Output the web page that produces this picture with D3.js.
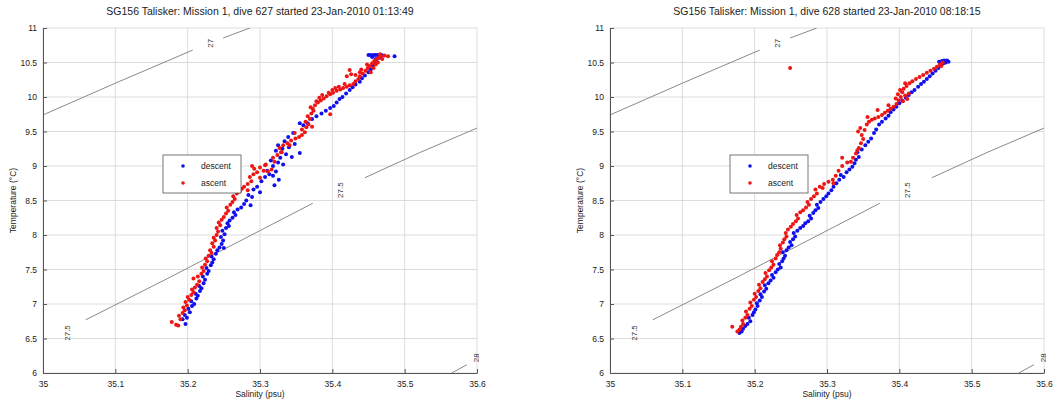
<!DOCTYPE html>
<html><head><meta charset="utf-8">
<script src="https://cdn.jsdelivr.net/npm/d3@7"></script>
<style>
body{margin:0;background:#fff;}
svg{display:block;font-family:"Liberation Sans",Arial,sans-serif;}
</style></head>
<body><svg id="chart" width="1059" height="405"></svg>
<script>
const titles = ["SG156 Talisker: Mission 1, dive 627 started 23-Jan-2010 01:13:49",
                "SG156 Talisker: Mission 1, dive 628 started 23-Jan-2010 08:18:15"];
const xTicks = [35,35.1,35.2,35.3,35.4,35.5,35.6];
const yTicks = [6,6.5,7,7.5,8,8.5,9,9.5,10,10.5,11];
const xLabel = "Salinity (psu)";
const yLabel = "Temperature (\u00B0C)";
const seriesNames = ["descent","ascent"];

// isopycnal contours [S,T] and labels
const contour27 = [[[35.0,9.74],[35.1,10.20],[35.207,10.68]],[[35.249,10.855],[35.286,11.0]]];
const contour275 = [[[35.059,6.77],[35.176,7.39],[35.314,8.14],[35.373,8.46]],[[35.445,8.83],[35.52,9.19],[35.6,9.55]]];
const contour28 = [[[35.565,6.0],[35.586,6.12]]];
const contourLabels = [["27",35.231,10.78],["27.5",35.41,8.65],["27.5",35.033,6.58],["28",35.598,6.22]];

const descent627 = [[35.197,6.71],[35.193,6.78],[35.199,6.80],[35.196,6.84],[35.203,6.88],[35.201,6.93],[35.206,6.97],[35.209,7.00],[35.205,7.04],[35.212,7.08],[35.214,7.12],[35.211,7.15],[35.217,7.19],[35.219,7.23],[35.216,7.26],[35.222,7.30],[35.224,7.35],[35.221,7.40],[35.227,7.44],[35.229,7.48],[35.226,7.52],[35.232,7.56],[35.234,7.60],[35.236,7.65],[35.233,7.69],[35.239,7.73],[35.241,7.78],[35.244,7.82],[35.250,7.81],[35.247,7.87],[35.249,7.92],[35.246,7.97],[35.251,8.01],[35.248,8.06],[35.253,8.10],[35.257,8.13],[35.255,8.17],[35.258,8.21],[35.262,8.25],[35.266,8.29],[35.264,8.33],[35.269,8.37],[35.274,8.40],[35.278,8.45],[35.287,8.43],[35.281,8.50],[35.289,8.55],[35.284,8.58],[35.300,8.62],[35.291,8.66],[35.296,8.70],[35.320,8.72],[35.302,8.78],[35.326,8.80],[35.307,8.84],[35.313,8.88],[35.318,8.86],[35.310,8.93],[35.322,8.92],[35.318,9.00],[35.325,9.05],[35.332,9.02],[35.315,9.08],[35.328,9.12],[35.344,9.13],[35.336,9.17],[35.355,9.19],[35.322,9.22],[35.331,9.25],[35.340,9.27],[35.325,9.30],[35.348,9.32],[35.334,9.36],[35.339,9.42],[35.346,9.48],[35.355,9.62],[35.360,9.59],[35.366,9.62],[35.372,9.68],[35.378,9.72],[35.385,9.76],[35.391,9.80],[35.397,9.84],[35.402,9.87],[35.406,9.92],[35.410,9.97],[35.414,10.00],[35.419,10.05],[35.424,10.10],[35.428,10.14],[35.432,10.18],[35.438,10.22],[35.441,10.27],[35.445,10.31],[35.450,10.36],[35.453,10.40],[35.456,10.45],[35.459,10.49],[35.461,10.54],[35.455,10.58],[35.450,10.61],[35.453,10.61],[35.457,10.61],[35.460,10.61],[35.463,10.61],[35.466,10.60],[35.468,10.61],[35.465,10.57],[35.460,10.55],[35.486,10.59]];

const ascent627 = [[35.178,6.74],[35.184,6.70],[35.187,6.69],[35.190,6.78],[35.188,6.83],[35.193,6.87],[35.196,6.91],[35.194,6.95],[35.199,6.98],[35.197,7.03],[35.202,7.06],[35.200,7.10],[35.205,7.13],[35.208,7.17],[35.206,7.21],[35.210,7.24],[35.213,7.28],[35.208,7.37],[35.216,7.33],[35.214,7.40],[35.219,7.44],[35.222,7.48],[35.220,7.53],[35.224,7.57],[35.227,7.62],[35.225,7.66],[35.229,7.70],[35.233,7.74],[35.231,7.78],[35.236,7.83],[35.234,7.88],[35.238,7.92],[35.236,7.96],[35.240,8.00],[35.242,8.05],[35.240,8.10],[35.245,8.14],[35.243,8.18],[35.247,8.22],[35.250,8.26],[35.253,8.31],[35.256,8.35],[35.254,8.40],[35.259,8.44],[35.262,8.48],[35.265,8.52],[35.263,8.56],[35.268,8.60],[35.283,8.65],[35.272,8.63],[35.275,8.67],[35.278,8.70],[35.283,8.74],[35.300,8.83],[35.288,8.78],[35.286,8.84],[35.291,8.88],[35.296,8.91],[35.292,8.96],[35.289,9.00],[35.300,8.98],[35.307,9.01],[35.305,8.93],[35.311,8.92],[35.316,8.95],[35.308,9.02],[35.320,9.06],[35.318,9.12],[35.324,9.16],[35.330,9.20],[35.329,9.20],[35.327,9.26],[35.341,9.30],[35.332,9.30],[35.338,9.33],[35.343,9.37],[35.349,9.40],[35.348,9.48],[35.354,9.42],[35.358,9.45],[35.362,9.49],[35.358,9.53],[35.372,9.57],[35.364,9.56],[35.367,9.60],[35.363,9.64],[35.369,9.68],[35.366,9.72],[35.371,9.76],[35.397,9.75],[35.374,9.80],[35.370,9.85],[35.376,9.88],[35.373,9.83],[35.378,9.94],[35.380,9.92],[35.384,9.95],[35.382,9.99],[35.388,9.98],[35.386,10.03],[35.392,10.01],[35.395,10.06],[35.397,10.04],[35.401,10.06],[35.400,10.10],[35.406,10.09],[35.404,10.13],[35.411,10.11],[35.409,10.15],[35.415,10.13],[35.420,10.15],[35.417,10.19],[35.424,10.17],[35.429,10.19],[35.432,10.23],[35.436,10.26],[35.420,10.30],[35.426,10.33],[35.432,10.32],[35.438,10.30],[35.424,10.39],[35.438,10.36],[35.442,10.34],[35.446,10.38],[35.449,10.42],[35.452,10.45],[35.455,10.49],[35.458,10.52],[35.461,10.55],[35.464,10.57],[35.467,10.59],[35.472,10.60],[35.477,10.59],[35.466,10.62],[35.460,10.47],[35.448,10.47],[35.440,10.40],[35.453,10.36],[35.457,10.42],[35.463,10.50],[35.469,10.55]];

const descent628 = [[35.179,6.58],[35.182,6.60],[35.184,6.64],[35.187,6.68],[35.190,6.71],[35.194,6.75],[35.192,6.80],[35.197,6.84],[35.199,6.88],[35.201,6.92],[35.204,6.97],[35.203,7.01],[35.207,7.05],[35.210,7.10],[35.208,7.14],[35.213,7.18],[35.216,7.22],[35.214,7.27],[35.219,7.30],[35.222,7.34],[35.226,7.38],[35.224,7.42],[35.229,7.46],[35.232,7.50],[35.236,7.53],[35.234,7.58],[35.238,7.62],[35.240,7.66],[35.242,7.70],[35.239,7.75],[35.244,7.78],[35.247,7.82],[35.251,7.85],[35.249,7.90],[35.253,7.94],[35.256,7.98],[35.254,8.03],[35.259,8.06],[35.263,8.10],[35.267,8.13],[35.270,8.17],[35.274,8.20],[35.278,8.24],[35.276,8.28],[35.281,8.32],[35.284,8.36],[35.288,8.39],[35.286,8.44],[35.291,8.48],[35.295,8.52],[35.299,8.56],[35.302,8.60],[35.306,8.65],[35.309,8.70],[35.313,8.75],[35.317,8.80],[35.319,8.87],[35.323,8.84],[35.327,8.91],[35.331,8.95],[35.335,8.99],[35.338,9.04],[35.340,9.09],[35.344,9.13],[35.342,9.20],[35.348,9.24],[35.353,9.30],[35.357,9.35],[35.361,9.40],[35.365,9.48],[35.368,9.53],[35.372,9.60],[35.376,9.64],[35.381,9.69],[35.385,9.73],[35.388,9.78],[35.392,9.82],[35.396,9.86],[35.400,9.91],[35.404,9.95],[35.409,9.99],[35.413,10.03],[35.417,10.07],[35.421,10.10],[35.426,10.15],[35.430,10.19],[35.434,10.22],[35.438,10.26],[35.442,10.30],[35.446,10.34],[35.450,10.38],[35.454,10.42],[35.458,10.46],[35.461,10.49],[35.455,10.51],[35.459,10.52],[35.462,10.53],[35.466,10.53],[35.468,10.51],[35.464,10.50]];

const ascent628 = [[35.169,6.67],[35.176,6.60],[35.179,6.63],[35.181,6.67],[35.184,6.71],[35.183,6.76],[35.187,6.80],[35.190,6.84],[35.188,6.89],[35.193,6.93],[35.196,6.97],[35.194,7.02],[35.199,7.06],[35.202,7.10],[35.200,7.15],[35.205,7.19],[35.208,7.23],[35.206,7.28],[35.211,7.32],[35.214,7.36],[35.217,7.40],[35.215,7.45],[35.220,7.49],[35.223,7.53],[35.226,7.57],[35.224,7.62],[35.229,7.66],[35.231,7.71],[35.234,7.75],[35.236,7.80],[35.235,7.85],[35.239,7.89],[35.241,7.94],[35.244,7.98],[35.243,8.03],[35.246,8.08],[35.250,8.12],[35.253,8.16],[35.257,8.20],[35.260,8.24],[35.258,8.29],[35.263,8.33],[35.267,8.36],[35.271,8.40],[35.275,8.44],[35.273,8.48],[35.278,8.52],[35.282,8.56],[35.286,8.60],[35.284,8.66],[35.294,8.68],[35.290,8.70],[35.296,8.74],[35.302,8.77],[35.308,8.80],[35.309,8.75],[35.312,8.86],[35.316,8.93],[35.321,9.00],[35.328,9.05],[35.333,9.06],[35.321,9.12],[35.336,9.12],[35.340,9.18],[35.342,9.23],[35.344,9.26],[35.347,9.33],[35.350,9.39],[35.348,9.45],[35.343,9.50],[35.346,9.55],[35.352,9.52],[35.355,9.60],[35.358,9.64],[35.356,9.71],[35.362,9.67],[35.366,9.69],[35.371,9.71],[35.370,9.81],[35.376,9.74],[35.380,9.77],[35.384,9.80],[35.385,9.88],[35.388,9.83],[35.392,9.86],[35.396,9.90],[35.399,9.95],[35.395,9.98],[35.402,10.00],[35.405,9.94],[35.398,10.04],[35.404,10.07],[35.401,10.10],[35.408,10.02],[35.411,9.97],[35.413,10.05],[35.406,10.12],[35.410,10.16],[35.408,10.20],[35.414,10.20],[35.418,10.23],[35.423,10.26],[35.428,10.29],[35.433,10.32],[35.438,10.35],[35.443,10.38],[35.448,10.41],[35.452,10.44],[35.456,10.47],[35.460,10.50],[35.458,10.45],[35.249,10.42]];

const panels = [
  {x0:43, title:titles[0], descent:descent627, ascent:ascent627},
  {x0:610, title:titles[1], descent:descent628, ascent:ascent628}
];
const plotTop = 28, W = 434, H = 345;
const svg = d3.select("#chart");
svg.append("rect").attr("width",1059).attr("height",405).attr("fill","#fff");

panels.forEach((p,i) => {
  const g = svg.append("g").attr("transform",`translate(${p.x0},${plotTop})`);
  const x = d3.scaleLinear().domain([35,35.6]).range([0,W]);
  const y = d3.scaleLinear().domain([6,11]).range([H,0]);
  const clipId = "clip"+i, lclipId = "lclip"+i;
  g.append("clipPath").attr("id",clipId).append("rect").attr("width",W).attr("height",H);
  g.append("clipPath").attr("id",lclipId).append("rect").attr("x",-10).attr("width",W+12).attr("height",H);

  // grid
  g.append("g").selectAll("line").data(xTicks).join("line")
    .attr("x1",d=>x(d)).attr("x2",d=>x(d)).attr("y1",0).attr("y2",H)
    .attr("stroke","#d4d4d4").attr("stroke-width",0.8);
  g.append("g").selectAll("line").data(yTicks).join("line")
    .attr("y1",d=>y(d)).attr("y2",d=>y(d)).attr("x1",0).attr("x2",W)
    .attr("stroke","#d4d4d4").attr("stroke-width",0.8);

  // contours
  const line = d3.line().x(d=>x(d[0])).y(d=>y(d[1]));
  const cg = g.append("g").attr("clip-path",`url(#${clipId})`);
  [...contour27, ...contour275, ...contour28].forEach(seg => {
    cg.append("path").attr("d",line(seg)).attr("fill","none")
      .attr("stroke","#8a8a8a").attr("stroke-width",1);
  });
  const lblg = g.append("g").attr("clip-path",`url(#${lclipId})`);
  contourLabels.forEach(([t,s,tv]) => {
    lblg.append("text").attr("transform",`translate(${x(s)+3},${y(tv)}) rotate(-90)`)
      .attr("text-anchor","middle").attr("font-size","8px").attr("fill","#333").text(t);
  });

  // axes
  const xAxis = d3.axisBottom(x).tickValues(xTicks).tickSizeInner(-4).tickSizeOuter(0).tickPadding(8).tickFormat(d3.format(""));
  const yAxis = d3.axisLeft(y).tickValues(yTicks).tickSizeInner(-4).tickSizeOuter(0).tickPadding(6).tickFormat(d=>String(d));
  const xa = g.append("g").attr("transform",`translate(0,${H})`).call(xAxis);
  const ya = g.append("g").call(yAxis);
  [xa,ya].forEach(a => {
    a.select(".domain").attr("stroke","#555");
    a.selectAll(".tick line").attr("stroke","#555");
    a.selectAll(".tick text").attr("font-size","8.5px").attr("fill","#222").attr("font-family","Liberation Sans, Arial, sans-serif");
  });

  // points
  const pg = g.append("g");
  pg.selectAll("circle.d").data(p.descent).join("circle").attr("class","d")
    .attr("cx",d=>x(d[0])).attr("cy",d=>y(d[1])).attr("r",2).attr("fill","#1010ee");
  pg.selectAll("circle.a").data(p.ascent).join("circle").attr("class","a")
    .attr("cx",d=>x(d[0])).attr("cy",d=>y(d[1])).attr("r",2).attr("fill","#ee1515");

  // labels
  svg.append("text").attr("x",p.x0+W/2).attr("y",15).attr("text-anchor","middle")
    .attr("font-size","10.5px").attr("fill","#222").text(p.title);
  g.append("text").attr("x",W/2).attr("y",H+24).attr("text-anchor","middle")
    .attr("font-size","8.5px").attr("fill","#222").text(xLabel);
  g.append("text").attr("transform",`translate(-27,${H/2}) rotate(-90)`).attr("text-anchor","middle")
    .attr("font-size","8.5px").attr("fill","#222").text(yLabel);

  // legend
  const lg = g.append("g").attr("transform","translate(120,127)");
  lg.append("rect").attr("width",78).attr("height",38).attr("fill","#fff").attr("stroke","#555").attr("stroke-width",0.8);
  seriesNames.forEach((n,k) => {
    lg.append("circle").attr("cx",20).attr("cy",11+k*17).attr("r",1.8).attr("fill",k===0?"#1010ee":"#ee1515");
    lg.append("text").attr("x",38).attr("y",14+k*17).attr("font-size","8.5px").attr("fill","#222").text(n);
  });
});
</script></body></html>
